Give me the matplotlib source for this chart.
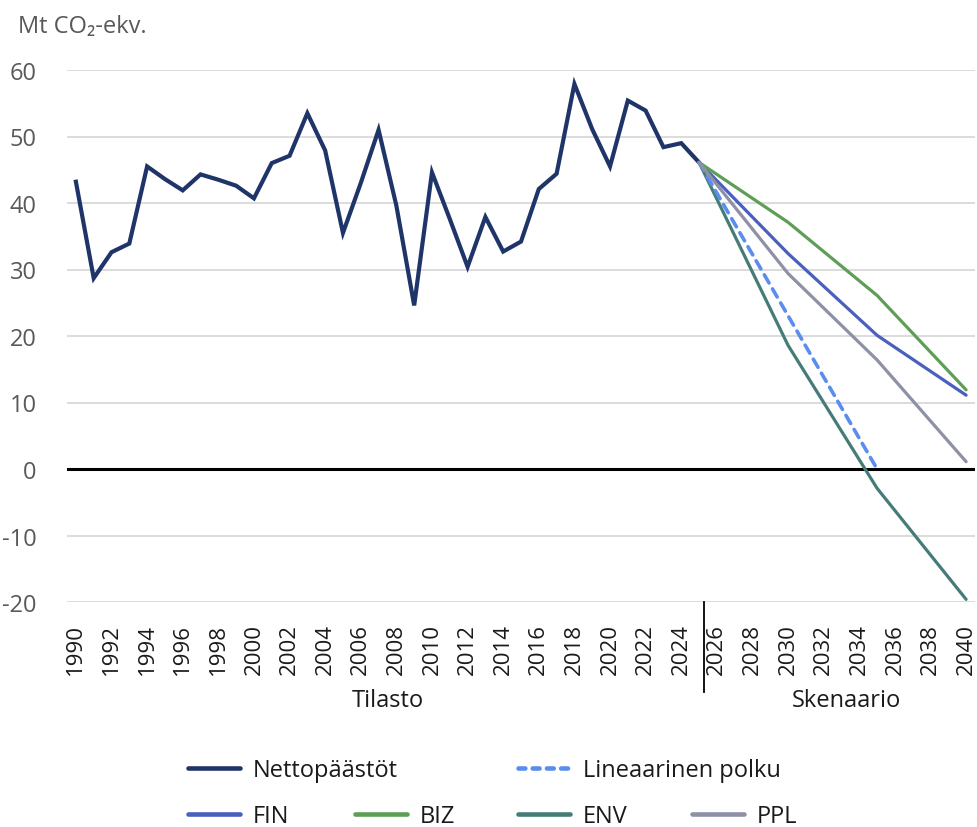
import numpy as np
import matplotlib
matplotlib.use("Agg")
from matplotlib import pyplot as plt
from matplotlib.lines import Line2D
import matplotlib.transforms as mtransforms

plt.rcParams["font.family"] = ["Open Sans", "DejaVu Sans"]

# historical net emissions, Mt CO2-eq
years = list(range(1990, 2026))
net = [43.2, 28.7, 32.6, 33.9, 45.5, 43.6, 41.9, 44.3, 43.5, 42.6,
       40.7, 46.0, 47.1, 53.5, 47.9, 35.5, 43.0, 51.0, 39.6, 24.6,
       44.6, 37.6, 30.4, 37.9, 32.7, 34.2, 42.1, 44.4, 57.9, 51.1,
       45.5, 55.4, 53.9, 48.4, 49.0, 46.1]

# scenarios
sc_years = [2025, 2030, 2035, 2040]
fin = [46.1, 32.4, 20.1, 11.1]
biz = [46.1, 37.1, 26.1, 11.9]
env = [46.1, 18.6, -2.9, -19.6]
ppl = [46.1, 29.4, 16.4, 1.1]
lin_years = [2025, 2030, 2035]
lin = [46.1, 23.05, 0.0]

yticks = [-20, -10, 0, 10, 20, 30, 40, 50, 60]
xticks = list(range(1990, 2041, 2))

c_net = "#1F3468"
c_fin = "#4A5FBE"
c_biz = "#5E9E56"
c_env = "#467C78"
c_ppl = "#8E90A6"
c_lin = "#5B8DEF"

fig = plt.figure(figsize=(9.78, 8.28), dpi=100)
ax = fig.add_axes([67 / 978, 1 - 603 / 828, (975 - 67) / 978, (603 - 71) / 828])

for v in yticks:
    if v != 0:
        ax.axhline(v, color="#D9D9D9", lw=1.3, zorder=0)
ax.axhline(0, color="black", lw=2.2, zorder=1)

ax.plot(years, net, color=c_net, lw=3.0, solid_joinstyle="miter", zorder=3)
ax.plot(sc_years, fin, color=c_fin, lw=2.3, solid_capstyle="round", zorder=3)
ax.plot(sc_years, biz, color=c_biz, lw=2.3, solid_capstyle="round", zorder=3)
ax.plot(sc_years, env, color=c_env, lw=2.3, solid_capstyle="round", zorder=3)
ax.plot(lin_years, lin, color=c_lin, lw=2.6, dashes=(2.6, 1.9),
        dash_capstyle="round", zorder=3)
ax.plot(sc_years, ppl, color=c_ppl, lw=2.3, solid_capstyle="round", zorder=4)

ax.set_xlim(1989.5, 2040.5)
ax.set_ylim(-20, 60)
ax.set_yticks(yticks)
ax.set_yticklabels([str(v) for v in yticks])
ax.set_xticks(xticks)
ax.set_xticklabels([str(v) for v in xticks], rotation=90, va="top")
ax.tick_params(axis="y", length=0, pad=22, labelsize=17, labelcolor="#595959")
ax.tick_params(axis="x", length=0, pad=15, labelsize=16, labelcolor="#1A1A1A")
for s in ax.spines.values():
    s.set_visible(False)

# group labels under the year axis
trans = mtransforms.blended_transform_factory(ax.transData, ax.transAxes)
ax.add_line(Line2D([2025.3, 2025.3], [0, -0.169], transform=trans,
                   color="black", lw=1.3, clip_on=False))
ax.text((1989.5 + 2025.5) / 2, -0.184, "Tilasto", transform=trans,
        ha="center", va="center", fontsize=17, color="#1A1A1A")
ax.text((2025.5 + 2040.5) / 2 + 0.3, -0.184, "Skenaario", transform=trans,
        ha="center", va="center", fontsize=17, color="#1A1A1A")

fig.text(18 / 978, 1 - 27 / 828, "Mt CO\u2082-ekv.", fontsize=17,
         color="#595959", ha="left", va="center")

# legend entries
entries = [
    (c_net, "-", "Nettopäästöt", 188, 771),
    (c_lin, "--", "Lineaarinen polku", 518, 771),
    (c_fin, "-", "FIN", 188, 817),
    (c_biz, "-", "BIZ", 355, 817),
    (c_env, "-", "ENV", 518, 817),
    (c_ppl, "-", "PPL", 692, 817),
]
for col, ls, lab, px, py in entries:
    if ls == "--":
        h = Line2D([], [], color=col, lw=3.3, dashes=(1.5, 1.6), dash_capstyle="round")
    else:
        h = Line2D([], [], color=col, lw=3.3, solid_capstyle="round")
    fig.legend([h], [lab], loc="center left", bbox_to_anchor=(px / 978, 1 - py / 828),
               frameon=False, fontsize=17, handlelength=2.2, handletextpad=0.55,
               borderpad=0, borderaxespad=0, labelcolor="#1A1A1A")

fig.savefig("out.png", dpi=100)
